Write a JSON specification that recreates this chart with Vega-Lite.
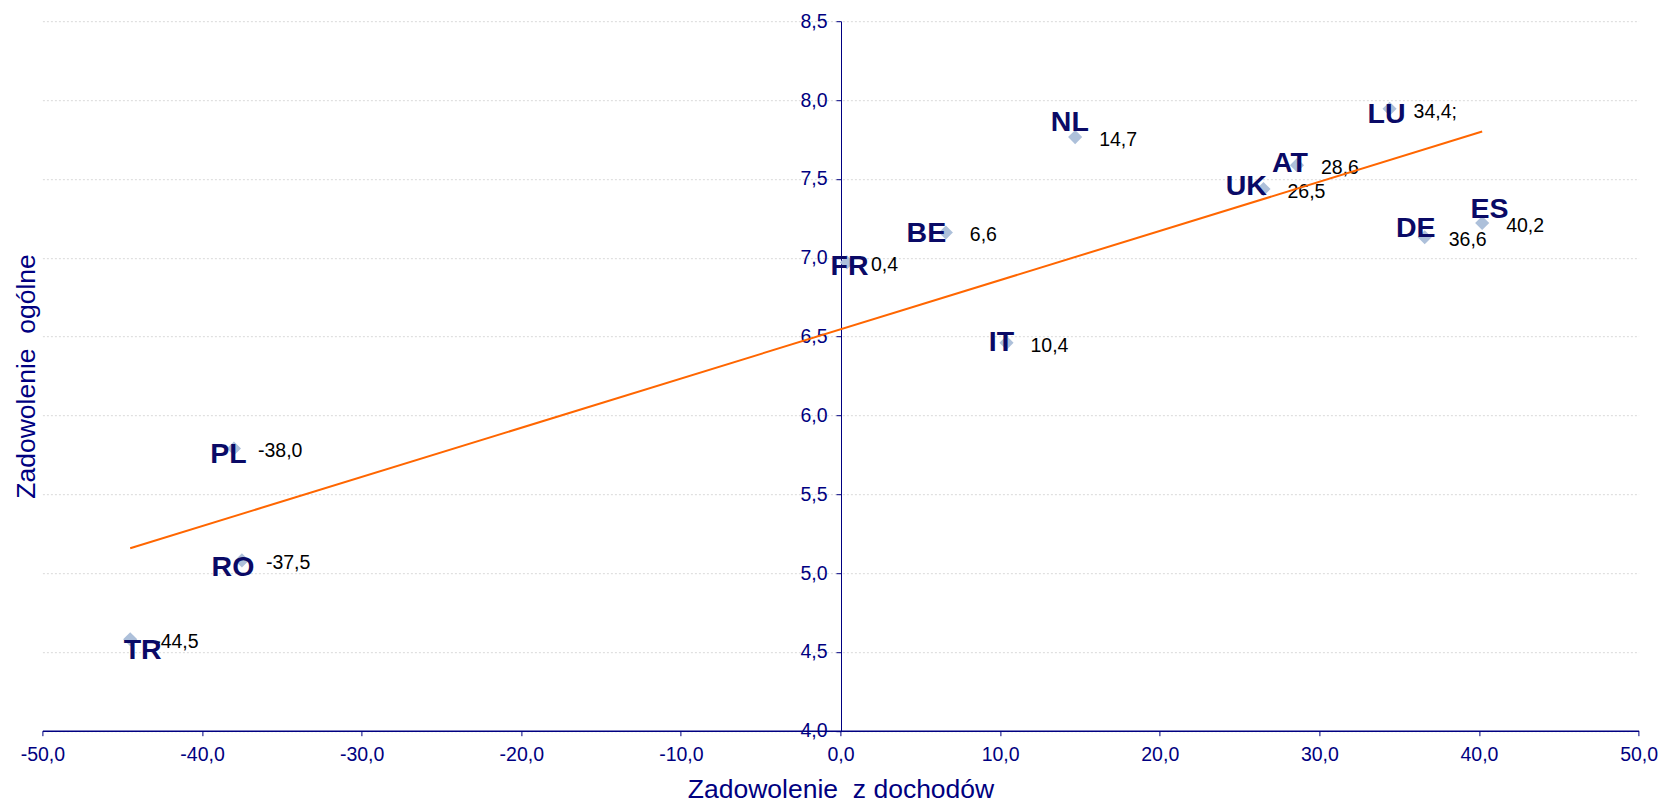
{
  "$schema": "https://vega.github.io/schema/vega-lite/v6.json",
  "width": 1596.2,
  "height": 709.5,
  "autosize": {"type": "none"},
  "padding": {"left": 42.4, "top": 21.2, "right": 24.4, "bottom": 71.3},
  "background": "white",
  "config": {
    "view": {"stroke": null},
    "locale": {"number": {"decimal": ",", "thousands": " ", "grouping": [3], "currency": ["", ""], "minus": "-"}},
    "font": "Liberation Sans"
  },
  "data": {"values": [
    {"country": "TR", "x": -44.5, "y": 4.58, "label": "-44,5"},
    {"country": "PL", "x": -38.0, "y": 5.79, "label": "-38,0"},
    {"country": "RO", "x": -37.5, "y": 5.08, "label": "-37,5"},
    {"country": "FR", "x": 0.4, "y": 6.97, "label": "0,4"},
    {"country": "BE", "x": 6.6, "y": 7.16, "label": "6,6"},
    {"country": "IT", "x": 10.4, "y": 6.46, "label": "10,4"},
    {"country": "NL", "x": 14.7, "y": 7.765, "label": "14,7"},
    {"country": "UK", "x": 26.5, "y": 7.435, "label": "26,5"},
    {"country": "AT", "x": 28.6, "y": 7.587, "label": "28,6"},
    {"country": "LU", "x": 34.4, "y": 7.945, "label": "34,4;"},
    {"country": "DE", "x": 36.6, "y": 7.13, "label": "36,6"},
    {"country": "ES", "x": 40.2, "y": 7.22, "label": "40,2"}
  ]},
  "encoding": {
    "x": {
      "field": "x", "type": "quantitative",
      "scale": {"domain": [-50, 50], "nice": false, "zero": false},
      "axis": {
        "values": [-50, -40, -30, -20, -10, 0, 10, 20, 30, 40, 50],
        "format": ".1f",
        "grid": false,
        "domainColor": "#000080", "domainWidth": 1.5,
        "tickColor": "#000080", "tickSize": 5,
        "labelColor": "#000080", "labelFont": "Liberation Sans", "labelFontSize": 19.5,
        "labelPadding": 10, "labelFlush": false, "labelOverlap": false, "labelBound": false,
        "title": "Zadowolenie\u00a0 z dochodów",
        "titleFont": "Liberation Sans", "titleFontSize": 26.5, "titleFontWeight": "normal",
        "titleColor": "#000080",
        "titleX": 798.1, "titleY": 67, "titleAlign": "center", "titleBaseline": "alphabetic"
      }
    },
    "y": {
      "field": "y", "type": "quantitative",
      "scale": {"domain": [4, 8.5], "nice": false, "zero": false},
      "axis": {
        "values": [4, 4.5, 5, 5.5, 6, 6.5, 7, 7.5, 8, 8.5],
        "format": ".1f",
        "offset": -798.6,
        "grid": true, "gridColor": "#d9d9d9", "gridDash": [2, 2], "gridWidth": 1,
        "domainColor": "#000080", "domainWidth": 1,
        "tickColor": "#000080", "tickSize": 5,
        "labelColor": "#000080", "labelFont": "Liberation Sans", "labelFontSize": 19.5,
        "labelPadding": 9, "labelFlush": false, "labelOverlap": false, "labelBound": false,
        "title": "Zadowolenie\u00a0 ogólne",
        "titleFont": "Liberation Sans", "titleFontSize": 26.5, "titleFontWeight": "normal",
        "titleColor": "#000080",
        "titleAngle": 270, "titleX": -807, "titleY": 354.75, "titleAlign": "center", "titleBaseline": "alphabetic"
      }
    }
  },
  "layer": [
    {
      "mark": {"type": "point", "shape": "diamond", "filled": true, "size": 200, "color": "#adc0da", "opacity": 1}
    },
    {
      "mark": {"type": "text", "align": "left", "baseline": "middle", "dx": 24, "dy": 3, "font": "Liberation Sans", "fontSize": 19.5, "color": "#000000"},
      "encoding": {"text": {"field": "label"}}
    },
    {
      "mark": {
        "type": "text", "align": "center", "baseline": "middle",
        "font": "Liberation Sans", "fontSize": 28.5, "fontWeight": "bold", "color": "#0a0a66",
        "dx": {"expr": "({TR: 12.5, PL: -5.5, RO: -9, FR: 2.6, BE: -19.5, IT: -5, NL: -5.3, UK: -17.2, AT: -7, LU: -3, DE: -9, ES: 7.4})[datum.country]"},
        "dy": {"expr": "({TR: 11, PL: 6, RO: 7, FR: 3.5, BE: 1, IT: -1, NL: -15.3, UK: -3.2, AT: -2.5, LU: 5.5, DE: -9.5, ES: -14})[datum.country]"}
      },
      "encoding": {"text": {"field": "country"}}
    },
    {
      "data": {"values": [{"x": -44.5, "y": 5.157}, {"x": 40.2, "y": 7.80}]},
      "mark": {"type": "line", "color": "#ff6600", "strokeWidth": 2},
      "encoding": {}
    }
  ]
}
